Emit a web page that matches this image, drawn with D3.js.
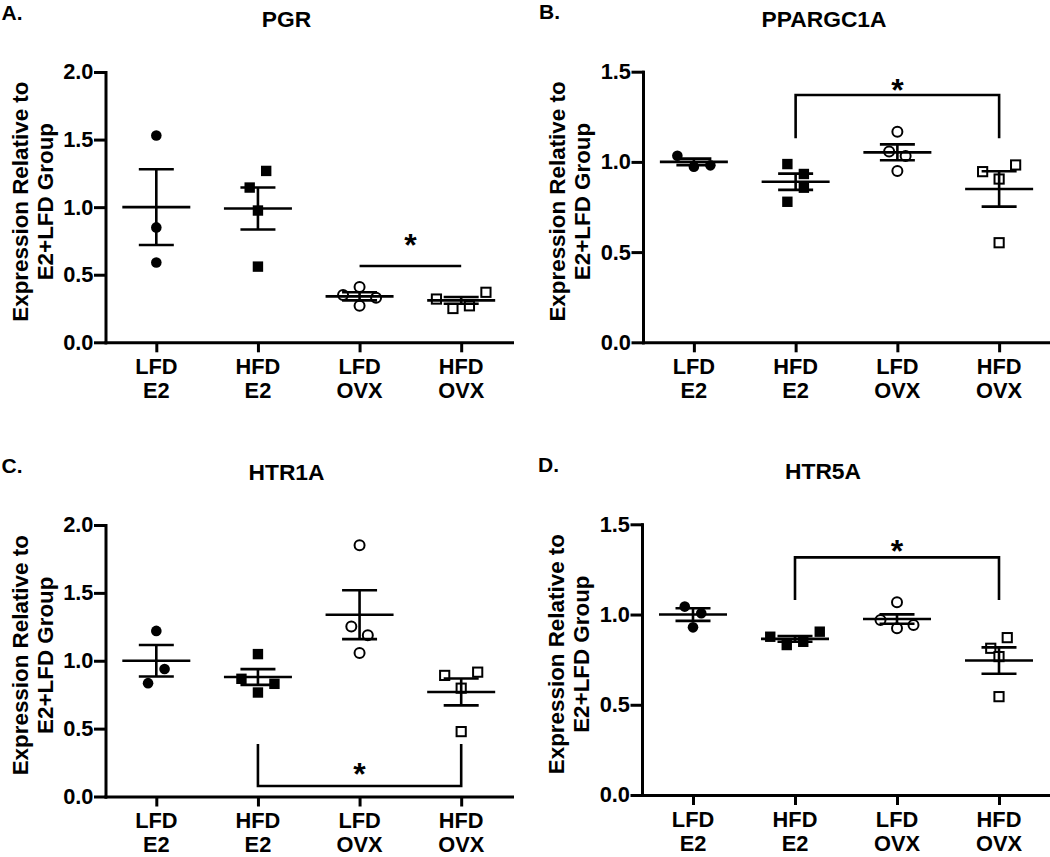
<!DOCTYPE html>
<html><head><meta charset="utf-8">
<script src="https://cdn.jsdelivr.net/npm/d3@7"></script>
<style>
body{margin:0;background:#fff;}
svg text{font-family:"Liberation Sans",Arial,Helvetica,sans-serif;font-weight:bold;fill:#000;}
</style></head><body>
<svg id="chart" width="1050" height="857"></svg>
<script>
// ---------- data ----------
const groupKeys = ["LFD E2","HFD E2","LFD OVX","HFD OVX"];
const labelTop = ["LFD","HFD","LFD","HFD"];
const labelBottom = ["E2","E2","OVX","OVX"];
const markerTypes = ["filledCircle","filledSquare","openCircle","openSquare"];
const yTicksTo2 = [0,0.5,1.0,1.5,2.0];
const yTicksTo15 = [0,0.5,1.0,1.5];
const yTitleLines = ["Expression Relative to","E2+LFD Group"];
const panelLetters = ["A.","B.","C.","D."];
const geneNames = ["PGR","PPARGC1A","HTR1A","HTR5A"];

// PGR
const pgrPoints = [[1.53,0.85,0.59],[1.145,1.268,0.975,0.56],[0.35,0.41,0.33,0.27],[0.32,0.25,0.27,0.37]];
const pgrMeans = [1.00,0.99,0.34,0.31];
const pgrSems = [0.28,0.155,0.03,0.025];
const pgrSigPair = [2,3];
const pgrSigLevels = [0.565,0.565,0.78]; // bar, leg end, star

// PPARGC1A
const ppargPoints = [[1.034,0.973,0.981],[0.988,0.933,0.779,0.857],[1.167,1.057,1.033,0.95],[0.946,0.905,0.983,0.552]];
const ppargMeans = [1.00,0.89,1.053,0.85];
const ppargSems = [0.018,0.045,0.044,0.098];
const ppargSigPair = [1,3];
const ppargSigLevels = [1.371,1.131,1.44];

// HTR1A
const htr1aPoints = [[1.22,0.835,0.939],[1.049,0.867,0.766,0.83],[1.85,1.253,1.187,1.057],[0.892,0.798,0.916,0.478]];
const htr1aMeans = [1.00,0.88,1.339,0.77];
const htr1aSems = [0.116,0.058,0.18,0.099];
const htr1aSigPair = [1,3];
const htr1aSigLevels = [0.077,0.387,0.22];

// HTR5A
const htr5aPoints = [[1.044,1.007,0.929],[0.877,0.831,0.849,0.905],[1.068,0.97,0.924,0.942],[0.813,0.872,0.767,0.545]];
const htr5aMeans = [1.00,0.865,0.975,0.745];
const htr5aSems = [0.035,0.016,0.026,0.073];
const htr5aSigPair = [1,3];
const htr5aSigLevels = [1.317,1.080,1.394];

// ---------- layout ----------
const layouts = [
  {x0:105.5, x1:512, yTop:72,    yBot:342.3, yMax:2.0, ticks:yTicksTo2},
  {x0:643,   x1:1050, yTop:71.7, yBot:342.3, yMax:1.5, ticks:yTicksTo15},
  {x0:105.5, x1:512, yTop:525,   yBot:796.5, yMax:2.0, ticks:yTicksTo2},
  {x0:642,   x1:1050, yTop:524.3, yBot:795,  yMax:1.5, ticks:yTicksTo15}
];
const panelsData = [
  {pts:pgrPoints, means:pgrMeans, sems:pgrSems, pair:pgrSigPair, lev:pgrSigLevels},
  {pts:ppargPoints, means:ppargMeans, sems:ppargSems, pair:ppargSigPair, lev:ppargSigLevels},
  {pts:htr1aPoints, means:htr1aMeans, sems:htr1aSems, pair:htr1aSigPair, lev:htr1aSigLevels},
  {pts:htr5aPoints, means:htr5aMeans, sems:htr5aSems, pair:htr5aSigPair, lev:htr5aSigLevels}
];

const FS = 21.8;

const svg = d3.select("#chart");
svg.append("rect").attr("width",1050).attr("height",857).attr("fill","#fff");

function dodge(values, y, rowH, spacing){
  const idx = d3.range(values.length).sort((a,b)=>values[b]-values[a]);
  const rows=[]; let cur=null;
  idx.forEach(i=>{
    const yy = y(values[i]);
    if(cur && Math.abs(yy-cur.y0) < rowH) cur.members.push(i);
    else { cur={y0:yy, members:[i]}; rows.push(cur); }
  });
  const off = new Array(values.length).fill(0);
  rows.forEach(r=>{
    const m = r.members.slice().sort((a,b)=>a-b);
    m.forEach((i,k)=>{ off[i] = (k-(m.length-1)/2)*spacing; });
  });
  return off;
}

layouts.forEach((L, p)=>{
  const D = panelsData[p];
  const g = svg.append("g");
  const x = d3.scalePoint().domain(groupKeys).range([L.x0, L.x1]).padding(0.5);
  const y = d3.scaleLinear().domain([0, L.yMax]).range([L.yBot, L.yTop]);

  // panel letter + title
  g.append("text").attr("x", L.x0-104).attr("y", L.yTop-52.5).attr("font-size",21).text(panelLetters[p]);
  g.append("text").attr("x", L.x0+181).attr("y", L.yTop-45).attr("font-size",22.8)
    .attr("text-anchor","middle").text(geneNames[p]);

  // y-axis title
  const cy = (L.yTop+L.yBot)/2 - 5.5;
  yTitleLines.forEach((t,i)=>{
    g.append("text").attr("transform",`translate(${L.x0-78+i*25},${cy}) rotate(-90)`)
      .attr("text-anchor","middle").attr("font-size",22.4).text(t);
  });

  // y axis
  const yAxis = d3.axisLeft(y).tickValues(L.ticks).tickSize(10).tickSizeOuter(0)
    .tickPadding(2).tickFormat(d3.format(".1f"));
  g.append("g").attr("transform",`translate(${L.x0},0)`).call(yAxis)
    .call(s=>{
      s.selectAll("path,line").attr("stroke","#000").attr("stroke-width",3).attr("stroke-linecap","square");
      s.selectAll("text").attr("font-size",FS).attr("font-family",null);
      s.attr("font-family",null).attr("font-size",FS);
    });

  // x axis
  const xAxis = d3.axisBottom(x).tickSize(10).tickSizeOuter(0).tickFormat(()=>"");
  g.append("g").attr("transform",`translate(0,${L.yBot})`).call(xAxis)
    .call(s=>{
      s.selectAll("path,line").attr("stroke","#000").attr("stroke-width",3);
      s.select(".domain").attr("stroke-linecap","square");
      s.attr("font-family",null);
    });
  g.selectAll(".xl1").data(groupKeys).enter().append("text")
    .attr("x", d=>x(d)).attr("y", L.yBot+31.5).attr("text-anchor","middle").attr("font-size",FS)
    .text((d,i)=>labelTop[i]);
  g.selectAll(".xl2").data(groupKeys).enter().append("text")
    .attr("x", d=>x(d)).attr("y", L.yBot+55.5).attr("text-anchor","middle").attr("font-size",FS)
    .text((d,i)=>labelBottom[i]);

  // points
  groupKeys.forEach((k, gi)=>{
    const vals = D.pts[gi];
    const offs = dodge(vals, y, 17, 16.5);
    const type = markerTypes[gi];
    const pg = g.append("g");
    vals.forEach((v,i)=>{
      const cx = x(k)+offs[i], cyy = y(v);
      if(type==="filledCircle"){
        pg.append("circle").attr("cx",cx).attr("cy",cyy).attr("r",5.3).attr("fill","#000");
      } else if(type==="filledSquare"){
        pg.append("rect").attr("x",cx-5.2).attr("y",cyy-5.2).attr("width",10.4).attr("height",10.4).attr("fill","#000");
      } else if(type==="openCircle"){
        pg.append("circle").attr("cx",cx).attr("cy",cyy).attr("r",5).attr("fill","#fff")
          .attr("stroke","#000").attr("stroke-width",2);
      } else {
        pg.append("rect").attr("x",cx-4.6).attr("y",cyy-4.6).attr("width",9.2).attr("height",9.2).attr("fill","#fff")
          .attr("stroke","#000").attr("stroke-width",2);
      }
    });
  });

  // mean & SEM
  const lg = g.append("g").attr("stroke","#000").attr("stroke-width",2.6).attr("fill","none");
  groupKeys.forEach((k, gi)=>{
    const cx = x(k), m = D.means[gi], s = D.sems[gi];
    lg.append("line").attr("x1",cx-34).attr("x2",cx+34).attr("y1",y(m)).attr("y2",y(m));
    lg.append("line").attr("x1",cx).attr("x2",cx).attr("y1",y(m-s)).attr("y2",y(m+s));
    lg.append("line").attr("x1",cx-17.5).attr("x2",cx+17.5).attr("y1",y(m+s)).attr("y2",y(m+s));
    lg.append("line").attr("x1",cx-17.5).attr("x2",cx+17.5).attr("y1",y(m-s)).attr("y2",y(m-s));
  });

  // significance
  const xa = x(groupKeys[D.pair[0]]), xb = x(groupKeys[D.pair[1]]);
  const yb = y(D.lev[0]), yl = y(D.lev[1]);
  const path = d3.path();
  path.moveTo(xa, yl); path.lineTo(xa, yb); path.lineTo(xb, yb); path.lineTo(xb, yl);
  g.append("path").attr("d", path.toString()).attr("fill","none").attr("stroke","#000").attr("stroke-width",2.6);
  g.append("text").attr("x",(xa+xb)/2).attr("y", y(D.lev[2]) + 0.585*32).attr("text-anchor","middle")
    .attr("font-size",32).text("*");
});
</script>
</body></html>
